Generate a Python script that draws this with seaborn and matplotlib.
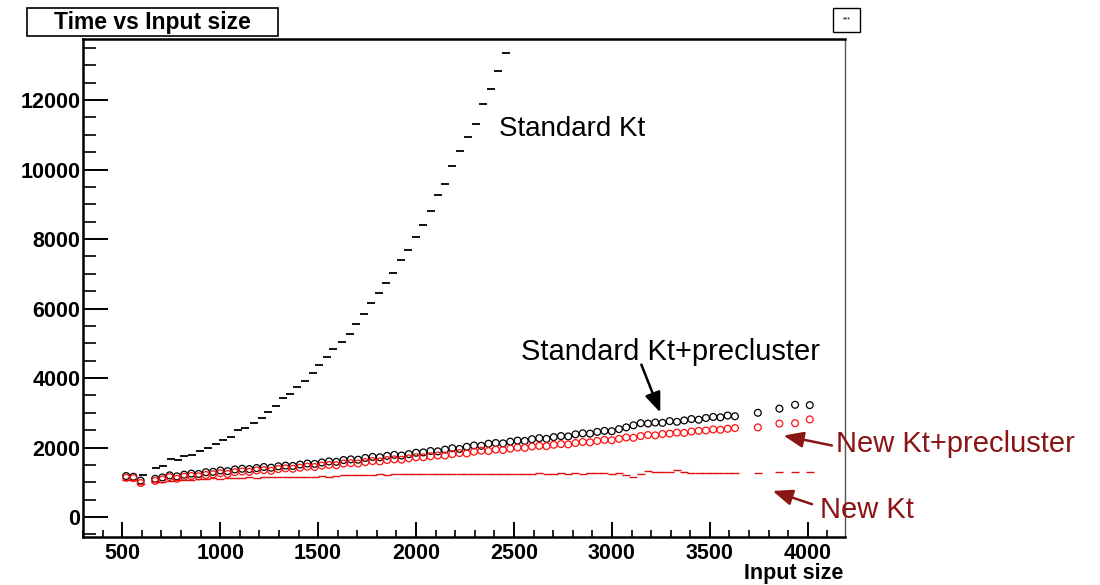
import numpy as np
import pandas as pd
import seaborn as sns
import matplotlib.pyplot as plt
from matplotlib.patches import Rectangle
from matplotlib.ticker import MultipleLocator

# Standard Kt
std_x = [607, 673, 709, 749, 785, 815, 856, 897, 937, 978,
         1014, 1054, 1090, 1126, 1171, 1212, 1243, 1283, 1319, 1355,
         1390, 1431, 1472, 1507, 1543, 1578, 1624, 1665, 1695, 1736,
         1772, 1812, 1848, 1884, 1924, 1960, 2001, 2036, 2077, 2113,
         2148, 2184, 2225, 2265, 2306, 2341, 2382, 2418, 2458]
std_y = [1210, 1410, 1470, 1670, 1640, 1760, 1780, 1900, 1990, 2100,
         2220, 2300, 2500, 2560, 2700, 2850, 3020, 3200, 3420, 3540,
         3740, 3910, 4140, 4380, 4600, 4840, 5040, 5270, 5560, 5840,
         6160, 6450, 6730, 7020, 7400, 7680, 8060, 8400, 8810, 9270,
         9580, 10100, 10530, 10940, 11310, 11890, 12320, 12840, 13350]

# input sizes for the other three series
size_x = [520, 557, 594, 668, 705, 742, 779, 816, 853, 890,
          927, 964, 1001, 1038, 1075, 1112, 1149, 1186, 1223, 1260,
          1297, 1334, 1371, 1408, 1445, 1482, 1519, 1556, 1593, 1630,
          1667, 1704, 1741, 1778, 1815, 1852, 1889, 1926, 1963, 2000,
          2037, 2074, 2111, 2148, 2185, 2222, 2259, 2296, 2333, 2370,
          2407, 2444, 2481, 2518, 2555, 2592, 2629, 2666, 2703, 2740,
          2777, 2814, 2851, 2888, 2925, 2962, 2999, 3036, 3073, 3110,
          3147, 3184, 3221, 3258, 3295, 3332, 3369, 3406, 3443, 3480,
          3517, 3554, 3591, 3628, 3745, 3855, 3935, 4010]
std_pre_y = [1180, 1160, 1050, 1100, 1140, 1200, 1170, 1220, 1250, 1240,
             1290, 1300, 1340, 1320, 1370, 1390, 1380, 1410, 1440, 1420,
             1460, 1480, 1470, 1510, 1540, 1530, 1570, 1600, 1590, 1640,
             1660, 1650, 1700, 1730, 1720, 1760, 1790, 1770, 1810, 1850,
             1860, 1900, 1890, 1940, 1980, 1960, 2020, 2060, 2050, 2110,
             2130, 2120, 2170, 2200, 2190, 2240, 2270, 2250, 2300, 2330,
             2320, 2380, 2410, 2400, 2450, 2480, 2470, 2530, 2580, 2640,
             2700, 2690, 2720, 2710, 2760, 2740, 2780, 2820, 2800, 2850,
             2880, 2870, 2920, 2900, 3000, 3120, 3230, 3220]
new_pre_y = [1130, 1120, 980, 1040, 1080, 1150, 1100, 1160, 1180, 1170,
             1210, 1230, 1260, 1240, 1290, 1310, 1300, 1340, 1350, 1330,
             1380, 1400, 1390, 1420, 1450, 1440, 1480, 1500, 1490, 1540,
             1550, 1540, 1580, 1610, 1600, 1640, 1660, 1650, 1690, 1720,
             1720, 1750, 1770, 1770, 1810, 1840, 1830, 1880, 1910, 1900,
             1940, 1930, 1970, 2000, 1990, 2030, 2050, 2040, 2080, 2100,
             2090, 2130, 2160, 2150, 2190, 2220, 2210, 2250, 2290, 2280,
             2330, 2360, 2350, 2390, 2400, 2430, 2420, 2460, 2480, 2490,
             2520, 2510, 2540, 2560, 2580, 2690, 2700, 2810]
new_y = [1080, 1060, 950, 1000, 1020, 1050, 1060, 1080, 1070, 1090,
         1100, 1110, 1100, 1120, 1130, 1120, 1140, 1130, 1150, 1140,
         1150, 1140, 1160, 1150, 1160, 1150, 1170, 1160, 1180, 1200,
         1210, 1220, 1210, 1220, 1230, 1220, 1230, 1240, 1230, 1240,
         1230, 1240, 1230, 1240, 1250, 1240, 1250, 1240, 1250, 1250,
         1240, 1250, 1250, 1240, 1250, 1250, 1260, 1250, 1240, 1260,
         1250, 1260, 1240, 1270, 1260, 1280, 1250, 1260, 1200, 1150,
         1230, 1330, 1300, 1290, 1310, 1340, 1300, 1280, 1270, 1270,
         1270, 1260, 1270, 1270, 1280, 1290, 1290, 1300]

sns.set_theme(style="white")
plt.rcParams['font.family'] = ['Liberation Sans', 'DejaVu Sans']
plt.rcParams['text.color'] = 'black'
plt.rcParams['xtick.color'] = 'black'
plt.rcParams['ytick.color'] = 'black'

dark_red = "#8b1414"

fig = plt.figure(figsize=(11, 5.85), dpi=100)
ax = fig.add_axes([0.0755, 0.082, 0.6927, 0.8513])

sns.scatterplot(x=size_x, y=std_pre_y, marker="o", s=24, facecolors="none",
                edgecolor="black", linewidth=0.9, ax=ax)
sns.scatterplot(x=size_x, y=new_pre_y, marker="o", s=24, facecolors="none",
                edgecolor="#ff1010", linewidth=0.9, ax=ax)
sns.scatterplot(x=size_x, y=new_y, marker="_", s=40, color="#e01010",
                linewidth=1.0, ax=ax)
sns.scatterplot(x=std_x, y=std_y, marker="_", s=28, color="black",
                linewidth=1.3, ax=ax)

ax.set_xlim(300, 4190)
ax.set_ylim(-575, 13755)
ax.xaxis.set_major_locator(MultipleLocator(500))
ax.xaxis.set_minor_locator(MultipleLocator(100))
ax.yaxis.set_major_locator(MultipleLocator(2000))
ax.yaxis.set_minor_locator(MultipleLocator(500))
ax.tick_params(axis="y", which="major", direction="in", length=18, width=1.4,
               labelsize=15.5, pad=2, left=True)
ax.tick_params(axis="y", which="minor", direction="in", length=9, width=1.2, left=True)
ax.tick_params(axis="x", which="major", direction="in", length=11, width=1.4,
               labelsize=15.5, pad=4, bottom=True)
ax.tick_params(axis="x", which="minor", direction="in", length=5, width=1.2, bottom=True)
for lab in ax.get_xticklabels() + ax.get_yticklabels():
    lab.set_fontweight("bold")

for side in ["left", "bottom", "top"]:
    ax.spines[side].set_color("black")
    ax.spines[side].set_linewidth(1.8)
ax.spines["right"].set_color("#555555")
ax.spines["right"].set_linewidth(1.0)

# labels and arrows
ax.text(2423, 10965, "Standard Kt", fontsize=20, color="black")
ax.text(2535, 4518, "Standard Kt+precluster", fontsize=21, color="black")
ax.text(4142, 1871, "New Kt+precluster", fontsize=21, color=dark_red, clip_on=False)
ax.text(4061, -29, "New Kt", fontsize=21, color=dark_red, clip_on=False)

arrow_kw = dict(arrowstyle="-|>,head_length=1.0,head_width=0.4", lw=1.8)
ax.annotate("", xy=(3252, 2935), xytext=(3145, 4461),
            arrowprops=dict(color="black", **arrow_kw))
ax.annotate("", xy=(3862, 2360), xytext=(4137, 2043),
            arrowprops=dict(color=dark_red, **arrow_kw), annotation_clip=False)
ax.annotate("", xy=(3807, 777), xytext=(4035, 345),
            arrowprops=dict(color=dark_red, **arrow_kw), annotation_clip=False)

fig.text(843 / 1100, 1 - 573 / 585, "Input size", ha="right", va="center",
         fontsize=15.5, fontweight="bold")

# title box
fig.patches.append(Rectangle((27 / 1100, 1 - 36 / 585), 251 / 1100, 28 / 585,
                             transform=fig.transFigure, fill=False,
                             edgecolor="black", linewidth=1.2))
fig.text(152 / 1100, 1 - 23 / 585, "Time vs Input size", ha="center", va="center",
         fontsize=16.5, fontweight="bold")
# small stats box
fig.patches.append(Rectangle((833 / 1100, 1 - 32 / 585), 27 / 1100, 24 / 585,
                             transform=fig.transFigure, fill=False,
                             edgecolor="black", linewidth=1.0))
fig.text(846.5 / 1100, 1 - 20 / 585, "***", ha="center", va="center", fontsize=5)

fig.savefig("out.png", dpi=100)
